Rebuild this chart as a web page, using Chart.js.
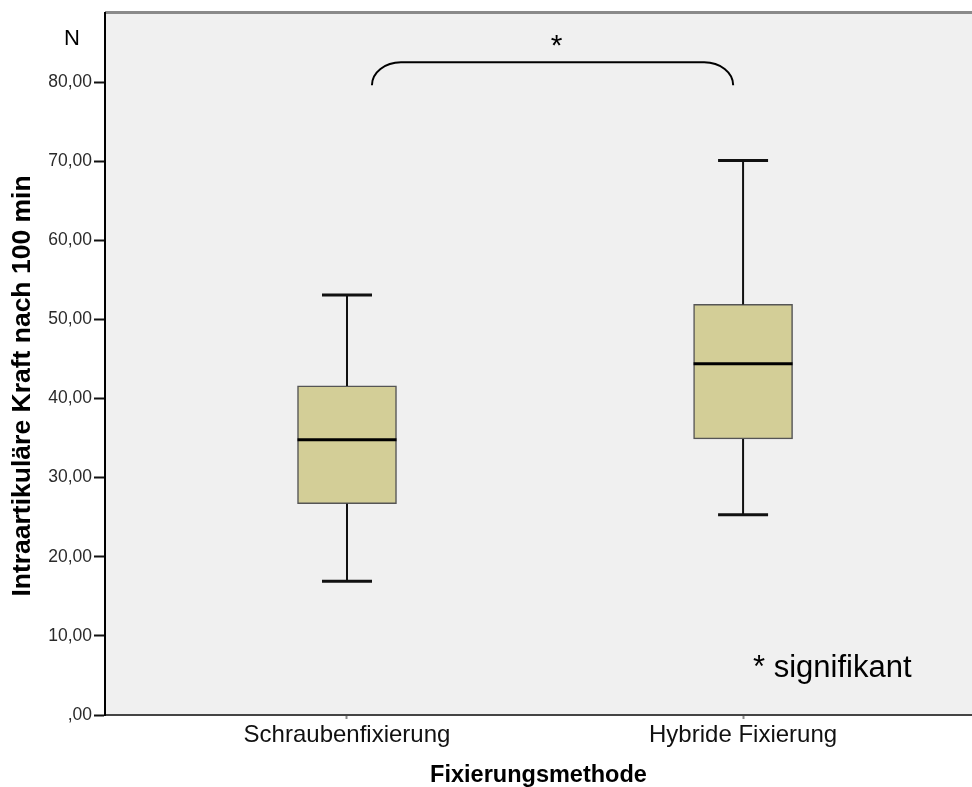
<!DOCTYPE html>
<html>
<head>
<meta charset="utf-8">
<script src="https://cdn.jsdelivr.net/npm/chart.js@4"></script>
<style>
  body { margin: 0; background: #fff; }
  #wrap { width: 972px; height: 787px; }
</style>
</head>
<body>
<div id="wrap"><canvas id="chart" width="972" height="787"></canvas></div>
<script>
// box plot values
const categories = ["Schraubenfixierung", "Hybride Fixierung"];
const whiskerLow = [16.9, 25.3];
const q1 = [26.7, 34.9];
const median = [34.8, 44.4];
const q3 = [41.6, 51.9];
const whiskerHigh = [53.1, 70.1];

// significance bracket, in data units
const bracketFrom = 1.063;
const bracketTo = 1.975;
const bracketLow = 79.6;
const bracketHigh = 82.5;
const starValue = 85.4;

const yMax = 88.8;

const FONT = "'Liberation Sans', Arial, sans-serif";

const fmt = (v) => (v === 0 ? ",00" : v.toFixed(2).replace(".", ","));

const background = {
  id: "background",
  beforeDraw(chart) {
    const { ctx, chartArea: a } = chart;
    ctx.save();
    ctx.fillStyle = "#f0f0f0";
    ctx.fillRect(a.left, a.top, a.right - a.left, a.bottom - a.top);
    ctx.strokeStyle = "#8a8a8a";
    ctx.lineWidth = 3;
    ctx.beginPath();
    ctx.moveTo(a.left, a.top);
    ctx.lineTo(a.right, a.top);
    ctx.stroke();
    ctx.restore();
  },
};

const boxPlot = {
  id: "boxPlot",
  afterDatasetsDraw(chart) {
    const { ctx, scales } = chart;
    const y = scales.y;
    const bars = chart.getDatasetMeta(0).data;
    ctx.save();
    bars.forEach((bar, i) => {
      const cx = bar.x;
      const half = bar.width / 2;
      const capHalf = 25;
      ctx.strokeStyle = "#111";
      ctx.lineWidth = 2;
      ctx.beginPath();
      ctx.moveTo(cx, y.getPixelForValue(q3[i]));
      ctx.lineTo(cx, y.getPixelForValue(whiskerHigh[i]));
      ctx.moveTo(cx, y.getPixelForValue(q1[i]));
      ctx.lineTo(cx, y.getPixelForValue(whiskerLow[i]));
      ctx.stroke();
      ctx.lineWidth = 3;
      ctx.beginPath();
      ctx.moveTo(cx - capHalf, y.getPixelForValue(whiskerHigh[i]));
      ctx.lineTo(cx + capHalf, y.getPixelForValue(whiskerHigh[i]));
      ctx.moveTo(cx - capHalf, y.getPixelForValue(whiskerLow[i]));
      ctx.lineTo(cx + capHalf, y.getPixelForValue(whiskerLow[i]));
      ctx.stroke();
      ctx.strokeStyle = "#000";
      ctx.lineWidth = 3;
      ctx.beginPath();
      ctx.moveTo(cx - half, y.getPixelForValue(median[i]));
      ctx.lineTo(cx + half, y.getPixelForValue(median[i]));
      ctx.stroke();
    });
    ctx.restore();
  },
};

const annotations = {
  id: "annotations",
  afterDraw(chart) {
    const { ctx, chartArea: a, scales } = chart;
    const { x, y } = scales;
    ctx.save();
    // bracket
    const x1 = x.getPixelForValue(bracketFrom);
    const x2 = x.getPixelForValue(bracketTo);
    const yl = y.getPixelForValue(bracketLow);
    const yh = y.getPixelForValue(bracketHigh);
    const rx = 29;
    const ry = yl - yh;
    ctx.strokeStyle = "#000";
    ctx.lineWidth = 2;
    ctx.beginPath();
    ctx.ellipse(x1 + rx, yl, rx, ry, 0, Math.PI, 1.5 * Math.PI);
    ctx.lineTo(x2 - rx, yh);
    ctx.ellipse(x2 - rx, yl, rx, ry, 0, 1.5 * Math.PI, 2 * Math.PI);
    ctx.stroke();

    ctx.fillStyle = "#000";
    ctx.textAlign = "center";
    ctx.textBaseline = "middle";
    ctx.font = `30px ${FONT}`;
    ctx.fillText("*", (x1 + x2) / 2 + 4, y.getPixelForValue(starValue) + 7);

    // unit label
    ctx.font = `22px ${FONT}`;
    ctx.fillText("N", a.left - 33, a.top + 26);

    // note
    ctx.textAlign = "left";
    ctx.font = `31px ${FONT}`;
    ctx.fillText("* signifikant", 753, 668);

    // y axis title
    ctx.translate(23, 386);
    ctx.rotate(-Math.PI / 2);
    ctx.textAlign = "center";
    ctx.font = `bold 26.5px ${FONT}`;
    ctx.fillText("Intraartikuläre Kraft nach 100 min", 0, 0);
    ctx.restore();
  },
};

new Chart(document.getElementById("chart"), {
  type: "bar",
  data: {
    datasets: [
      {
        data: categories.map((c, i) => ({ x: i + 1, y: [q1[i], q3[i]] })),
        backgroundColor: "#d3ce97",
        borderColor: "#555",
        borderWidth: 1.5,
        borderSkipped: false,
        barThickness: 99,
      },
    ],
  },
  options: {
    responsive: false,
    animation: false,
    layout: { padding: { top: 11, right: 0, bottom: 0, left: 0 } },
    plugins: {
      legend: { display: false },
      tooltip: { enabled: false },
    },
    scales: {
      x: {
        type: "linear",
        min: 0.389,
        max: 2.578,
        offset: false,
        afterFit(scale) {
          scale.height = 72;
        },
        afterBuildTicks(scale) {
          scale.ticks = categories.map((c, i) => ({ value: i + 1 }));
        },
        ticks: {
          callback: (v) => categories[v - 1],
          font: { family: FONT, size: 24 },
          color: "#111",
          padding: 2,
          maxRotation: 0,
          autoSkip: false,
        },
        grid: {
          offset: false,
          drawOnChartArea: false,
          tickLength: 4,
          tickColor: "#888",
          tickWidth: 2,
        },
        border: { color: "#444", width: 2 },
        title: {
          display: true,
          text: "Fixierungsmethode",
          font: { family: FONT, size: 23.5, weight: "bold", lineHeight: 1 },
          color: "#000",
          padding: { top: 0, bottom: 0 },
        },
      },
      y: {
        min: 0,
        max: yMax,
        afterFit(scale) {
          scale.width = 105;
        },
        ticks: {
          stepSize: 10,
          includeBounds: false,
          callback: (v) => fmt(v),
          font: { family: FONT, size: 17.5 },
          color: "#2a2a2a",
          padding: 2,
        },
        grid: {
          drawOnChartArea: false,
          tickLength: 11,
          tickColor: "#111",
          tickWidth: 2,
        },
        border: { color: "#000", width: 2 },
      },
    },
  },
  plugins: [background, boxPlot, annotations],
});
</script>
</body>
</html>
